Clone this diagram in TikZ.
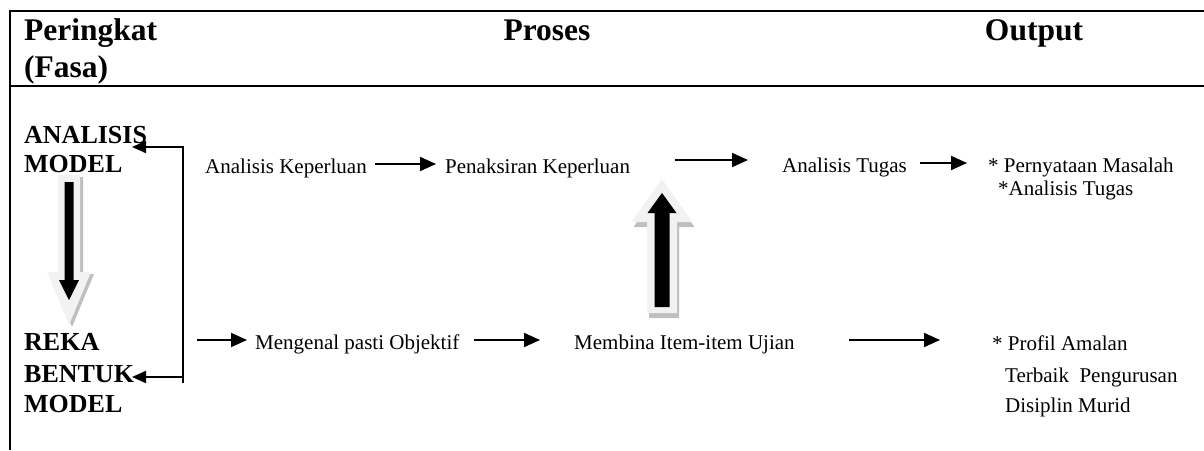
\documentclass[tikz,border=0pt]{standalone}
\usepackage{fontspec}
\setmainfont{Liberation Serif}
\usetikzlibrary{arrows.meta}
\definecolor{blockfill}{HTML}{F2F2F2}
\definecolor{blockshadow}{HTML}{BFBFBF}
\tikzset{
  hdr/.style={inner sep=0pt, font=\fontsize{31.5}{36}\selectfont\bfseries},
  lbl/.style={inner sep=0pt, anchor=base west, font=\fontsize{26}{30}\selectfont\bfseries},
  txt/.style={inner sep=0pt, anchor=base west, font=\fontsize{21}{24}\selectfont},
  frame/.style={line width=2.2pt},
  arr/.style={line width=2pt, -{Triangle[length=16pt,width=14pt]}},
  backarr/.style={line width=2pt, -{Triangle[length=14pt,width=12pt]}},
  bline/.style={line width=2pt},
}
\begin{document}
\begin{tikzpicture}[x=1pt,y=-1pt]
\useasboundingbox (0,0) rectangle (1204,450);
% frame
\draw[frame] (10,11) -- (1204,11);
\draw[frame] (10,86) -- (1204,86);
\draw[frame] (10,10) -- (10,450);
% headers
\node[hdr, anchor=base west] (hp) at (24,40) {Peringkat};
\node[hdr, anchor=base west] (hf) at (24,77) {(Fasa)};
\node[hdr, anchor=base] (hpr) at (547,40) {Proses};
\node[hdr, anchor=base] (hout) at (1034,40) {Output};
% row labels
\node[lbl] (ra1) at (24,143) {ANALISIS};
\node[lbl] (ra2) at (24,172) {MODEL};
\node[lbl] (rb1) at (24,350) {REKA};
\node[lbl] (rb2) at (24,382) {BENTUK};
\node[lbl] (rb3) at (24,412) {MODEL};
% top row
\node[txt] (ak) at (205,173) {Analisis Keperluan};
\node[txt] (pk) at (445,173) {Penaksiran Keperluan};
\node[txt] (at) at (782,172) {Analisis Tugas};
\node[txt] (o1) at (988,172) {* Pernyataan Masalah};
\node[txt] (o2) at (998,195) {*Analisis Tugas};
% bottom row
\node[txt] (mp) at (255,349) {Mengenal pasti Objektif};
\node[txt] (mb) at (574,349) {Membina Item-item Ujian};
\node[txt] (p1) at (992,350) {* Profil Amalan};
\node[txt] (p2) at (1005,382) {Terbaik\ \ Pengurusan};
\node[txt] (p3) at (1005,412) {Disiplin Murid};
% process arrows, top row
\draw[arr] ([xshift=8pt,yshift=9pt]ak.base east) -- ([xshift=-9pt,yshift=9pt]pk.base west);
\draw[arr] ([xshift=45pt,yshift=13pt]pk.base east) -- ([xshift=-34pt,yshift=12pt]at.base west);
\draw[arr] ([xshift=13pt,yshift=9pt]at.base east) -- ([xshift=-21pt,yshift=9pt]o1.base west);
% process arrows, bottom row
\coordinate (b1s) at (197,340);
\draw[arr] (b1s) -- ([xshift=-8pt,yshift=9pt]mp.base west);
\draw[arr] ([xshift=14pt,yshift=9pt]mp.base east) -- ([xshift=-34pt,yshift=9pt]mb.base west);
\draw[arr] ([xshift=54pt,yshift=9pt]mb.base east) -- ([xshift=-52pt,yshift=10pt]p1.base west);
% feedback bracket
\coordinate (bt) at (183,147);
\coordinate (bb) at (183,383);
\coordinate (bm) at (183,377);
\coordinate (t1) at (132,147);
\coordinate (t2) at (132,377);
\draw[bline] ([yshift=1pt]bt) -- (bb);
\draw[backarr] (bt) -- (t1);
\draw[backarr] (bm) -- (t2);
% left block arrow (down)
\begin{scope}[shift={(3,2)}]
\fill[blockshadow] (58,175) -- (80,175) -- (80,272) -- (91,272) -- (69,325) -- (47,272) -- (58,272) -- cycle;
\end{scope}
\fill[blockfill] (58,175) -- (80,175) -- (80,272) -- (91,272) -- (69,325) -- (47,272) -- (58,272) -- cycle;
\fill[black] (64.5,182) -- (73.5,182) -- (73.5,280) -- (79,280) -- (69,300) -- (59,280) -- (64.5,280) -- cycle;
% centre block arrow (up)
\begin{scope}[shift={(2,5)}]
\fill[blockshadow] (647,313) -- (677,313) -- (677,222) -- (692.5,222) -- (662,179) -- (631.5,222) -- (647,222) -- cycle;
\end{scope}
\fill[blockfill] (647,313) -- (677,313) -- (677,222) -- (692.5,222) -- (662,179) -- (631.5,222) -- (647,222) -- cycle;
\fill[black] (654.5,307) -- (669.5,307) -- (669.5,213) -- (676.5,213) -- (662,193) -- (647.5,213) -- (654.5,213) -- cycle;
\end{tikzpicture}
\end{document}
